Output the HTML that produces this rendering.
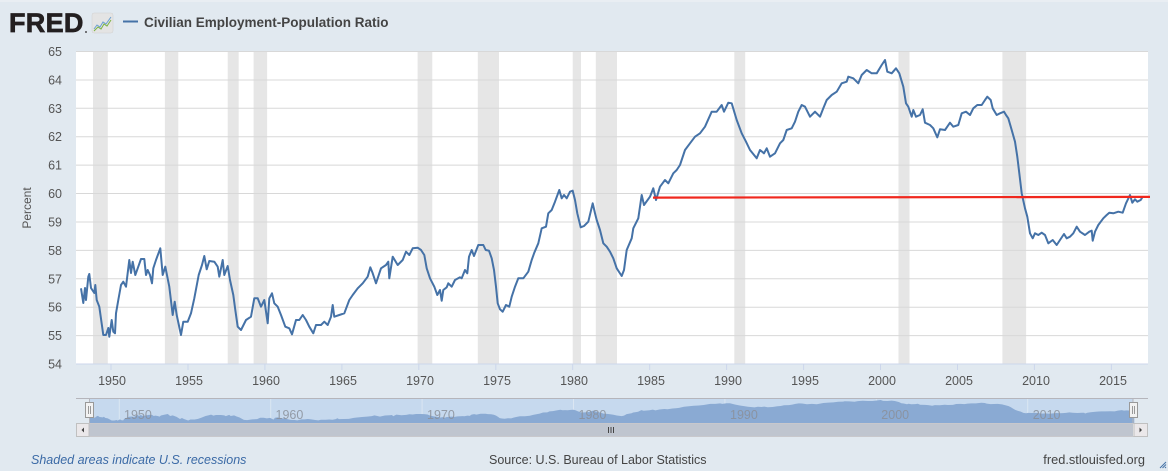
<!DOCTYPE html>
<html><head><meta charset="utf-8"><style>
html,body{margin:0;padding:0;background:#e1e9f0;}
svg{display:block;font-family:"Liberation Sans",sans-serif;}
</style></head><body>
<svg width="1168" height="471" viewBox="0 0 1168 471" xmlns="http://www.w3.org/2000/svg">
<rect x="0" y="0" width="1168" height="471" fill="#e1e9f0"/>
<rect x="0" y="0" width="1168" height="2" fill="#e9eef3"/>
<!-- header -->
<text x="9" y="32" font-size="27" font-weight="bold" fill="#231f20" stroke="#231f20" stroke-width="0.7" letter-spacing="0.3">FRED</text>
<circle cx="86" cy="32" r="0.9" fill="#231f20"/>
<rect x="92" y="13" width="21" height="20" rx="2" fill="#e4e4e4" stroke="#d0d0d0" stroke-width="0.5"/>
<polyline points="94,29 97,25 100,27 103,22 106,24 111,17" fill="none" stroke="#6a9fd0" stroke-width="1"/>
<polyline points="94,31 98,27 101,29 104,24 107,26 111,20" fill="none" stroke="#7cb342" stroke-width="1"/>
<line x1="123" y1="21.5" x2="138" y2="21.5" stroke="#4572a7" stroke-width="2"/>
<text x="144" y="27" font-size="13.5" font-weight="bold" fill="#444">Civilian Employment-Population Ratio</text>
<!-- plot bg -->
<rect x="76" y="51.5" width="1072" height="312.5" fill="#ffffff"/>
<!-- recessions -->
<g fill="#e6e6e6">
<rect x="93" y="51.5" width="14.8" height="312.5"/>
<rect x="164.9" y="51.5" width="13.4" height="312.5"/>
<rect x="227.7" y="51.5" width="11" height="312.5"/>
<rect x="253.6" y="51.5" width="13.5" height="312.5"/>
<rect x="417.6" y="51.5" width="14.7" height="312.5"/>
<rect x="477.8" y="51.5" width="21.2" height="312.5"/>
<rect x="572.7" y="51.5" width="8.3" height="312.5"/>
<rect x="595.8" y="51.5" width="21.2" height="312.5"/>
<rect x="734.3" y="51.5" width="10.9" height="312.5"/>
<rect x="898.5" y="51.5" width="11" height="312.5"/>
<rect x="1002.4" y="51.5" width="23.7" height="312.5"/>
</g>
<!-- gridlines -->
<g stroke="#d8d8d8" stroke-width="1">
<line x1="76" y1="51.5" x2="1148" y2="51.5"/>
<line x1="76" y1="80" x2="1148" y2="80"/>
<line x1="76" y1="108.3" x2="1148" y2="108.3"/>
<line x1="76" y1="136.7" x2="1148" y2="136.7"/>
<line x1="76" y1="165.1" x2="1148" y2="165.1"/>
<line x1="76" y1="193.5" x2="1148" y2="193.5"/>
<line x1="76" y1="222" x2="1148" y2="222"/>
<line x1="76" y1="250.4" x2="1148" y2="250.4"/>
<line x1="76" y1="278.8" x2="1148" y2="278.8"/>
<line x1="76" y1="307.2" x2="1148" y2="307.2"/>
<line x1="76" y1="335.6" x2="1148" y2="335.6"/>
</g>
<line x1="76" y1="364" x2="1148" y2="364" stroke="#ccd6eb" stroke-width="1"/>
<!-- x ticks -->
<g stroke="#ccd6eb" stroke-width="1">
<line x1="111" y1="364" x2="111" y2="370"/><line x1="188" y1="364" x2="188" y2="370"/>
<line x1="264.9" y1="364" x2="264.9" y2="370"/><line x1="341.9" y1="364" x2="341.9" y2="370"/>
<line x1="418.8" y1="364" x2="418.8" y2="370"/><line x1="495.8" y1="364" x2="495.8" y2="370"/>
<line x1="572.7" y1="364" x2="572.7" y2="370"/><line x1="649.7" y1="364" x2="649.7" y2="370"/>
<line x1="726.6" y1="364" x2="726.6" y2="370"/><line x1="803.6" y1="364" x2="803.6" y2="370"/>
<line x1="880.5" y1="364" x2="880.5" y2="370"/><line x1="957.5" y1="364" x2="957.5" y2="370"/>
<line x1="1034.4" y1="364" x2="1034.4" y2="370"/><line x1="1111.4" y1="364" x2="1111.4" y2="370"/>
</g>
<!-- y labels -->
<g font-size="12.5" fill="#555" text-anchor="end">
<text x="62" y="56">65</text><text x="62" y="84.5">64</text><text x="62" y="112.8">63</text>
<text x="62" y="141.2">62</text><text x="62" y="169.6">61</text><text x="62" y="198">60</text>
<text x="62" y="226.5">59</text><text x="62" y="254.9">58</text><text x="62" y="283.3">57</text>
<text x="62" y="311.7">56</text><text x="62" y="340.1">55</text><text x="62" y="368.5">54</text>
</g>
<text transform="translate(31,208) rotate(-90)" font-size="12" fill="#555" text-anchor="middle">Percent</text>
<!-- x labels -->
<g font-size="12.5" fill="#555" text-anchor="middle">
<text x="112" y="385">1950</text><text x="189" y="385">1955</text><text x="266" y="385">1960</text>
<text x="343" y="385">1965</text><text x="420" y="385">1970</text><text x="497" y="385">1975</text>
<text x="574" y="385">1980</text><text x="651" y="385">1985</text><text x="728" y="385">1990</text>
<text x="805" y="385">1995</text><text x="882" y="385">2000</text><text x="959" y="385">2005</text>
<text x="1036" y="385">2010</text><text x="1113" y="385">2015</text>
</g>
<!-- series -->
<polyline id="s" fill="none" stroke="#4572a7" stroke-width="2" stroke-linejoin="round" points="81,288.3 83.3,303 85,288 86,300 88.3,276.7 89.3,274 91,288 94.3,293 95.3,285 96.7,300 99.3,306.7 103.3,335 106,335 108.3,328 109.3,336.7 111.7,320 113.3,331.7 115,333.3 116,313.3 118.3,300 121,285 123.3,281.7 126,286.7 129.3,260 131,273 132.7,261.7 135.3,275 137.7,268.3 141,259 144.3,259 146,275 147.7,270 150,275 152,283.3 153.3,268.3 156,260 160.3,248.3 162.7,275 165.3,266.7 169.3,286.7 172.7,315 174.7,301.7 176.7,315 181,335 183.3,321.7 187.7,321.7 191,313.3 194.3,298.3 198.7,275 202,265 204.3,256 206.7,269.3 209.3,261 214.3,261.7 217.7,266.7 219.3,276.7 222.7,260 224.3,275 227.7,266 230,280 233.3,295 235.3,310 237.7,326.7 241,330 246,320 251,316.7 254.3,298.3 257.7,298.3 261,306.7 264.3,300 267.7,323.3 269.3,298.3 272,293.3 274.3,303.3 277.7,306.7 281,315 285.3,326.7 289.3,328.3 292,334.3 296,320 299.3,320 302.7,315 306,320 309.3,326.7 313.3,333.3 316,325 321,325 324.3,321.7 327.7,325 331,316.7 332.7,305 334.3,316.7 339.3,315 344.3,313.3 349.3,300 352.7,295 357.7,288.3 362.7,283.3 367.7,276.7 370.3,267.3 372.7,273.3 376,283.3 381,268.3 386,265 388.3,261.7 389.3,278.3 392.7,256.7 397.7,265 402.7,260 406,251.7 409.3,255 412.7,248.3 417.7,247.7 421,250 424.3,255 426.7,268.3 430,278.3 434.3,286.7 437.3,295 440,290 441.7,300.7 443.3,290 446.7,287.3 448.3,283.3 451.7,286.7 455,280 460,277.3 461.7,278.3 465,270 467.3,273.3 469,256.7 471.7,250 474,256 478.3,245 483.3,245 485.7,250 489,250.7 491.7,258.3 494,270 496,286.7 497.7,303.3 500,309.3 502.7,311.7 506,305 509.3,306.7 511.7,296.7 515,286.7 518.3,278.3 523.3,278.3 528.3,271.7 531.7,260 534.3,252.7 538.3,243.3 541.7,228.3 546,226.7 548.3,213.3 551.7,210 555,201.7 559.3,190 561.7,198.3 564,195 566.7,198.3 570,191.7 572.7,190.7 575,200 577.3,213.3 580.7,227.3 584,226 588.3,221.7 592.7,203.3 595,213.3 596.7,220 600,230 603.3,243.3 606.7,246.7 610,251.7 613.3,258.3 616.7,268.3 621.7,276 624,270 626.7,250 631.7,238.3 633.3,228.3 638.3,218.3 641.7,195 644,205 650,196.7 653.3,188.3 656,200 660,186.7 665,180 668.3,183.3 673.3,173.3 676.7,170 680,165 685,150 690,143.3 695,136.7 700,133.3 705,126.7 711.7,111.7 716.7,111.7 721.7,105 724,111.7 728.3,102.7 731.7,103.3 736.7,120 741.7,133.3 746,141.7 750,150 756.7,158.3 760,150 764,153.3 766.7,148.3 770,156.7 775,153.3 780,143.3 783.3,140 786.7,130 791.7,128.3 795,121.7 798.3,111.7 801.7,105 805,106.7 810,116.7 815,111.7 820,116.7 823.3,108.3 826.7,100 831.7,95 836.7,91.7 841.7,83.3 846.7,81.7 848.3,76.7 853.3,78.3 858.3,83.3 861.7,75 866.7,70 871.7,73.3 876.7,73.3 881.7,65 885,60 887.3,71.7 891.7,73.3 896,68.3 899.3,73.3 903.3,86.7 906,103.3 908.3,106.7 911.7,116.7 913.3,110 916,116.7 920,115 922.7,109.3 925,122.7 930,125 933.3,128.3 937.3,137.3 940,129.3 945,130 950,122.7 953.3,126.7 958.3,125 961.7,113.3 966,111.7 970,115 973.3,108.3 977.3,105 981.7,105 985,100 987.3,96.7 990.7,100 992.7,108.3 996.7,115 1000,113.3 1004,111.7 1006,115 1008.3,118.3 1011.7,130 1015,141.7 1017.3,156.7 1019.3,173.3 1021.7,193.3 1025,208.3 1027.3,216.7 1030,233.3 1032.7,238.3 1035,233.3 1038.3,235 1041.7,232.7 1045,235 1048.3,243.3 1052.7,240 1056.7,245 1060,240 1064,234 1066.7,238.3 1070,236.7 1073.3,233.3 1076.7,226.7 1080,231.7 1085,235 1089.3,231.7 1091.7,230.7 1092.7,240.7 1095,231.7 1098.3,225 1103.3,218.3 1106.7,215 1109.3,212.7 1113.3,213.3 1118.3,211.7 1122.7,212.7 1126,203.3 1130,195 1132.3,202.7 1135,199.3 1137.3,201.7 1140.7,200 1142.7,196.7"/>
<!-- red line -->
<line x1="653" y1="197.6" x2="1150" y2="196.9" stroke="#f0281e" stroke-width="2.2"/>
<!-- navigator -->
<rect x="89" y="399" width="1044" height="24" fill="#c6d9ee"/>
<g stroke="#dbe6f2" stroke-width="1">
<line x1="119.3" y1="399" x2="119.3" y2="423"/><line x1="270.7" y1="399" x2="270.7" y2="423"/>
<line x1="422.1" y1="399" x2="422.1" y2="423"/><line x1="573.5" y1="399" x2="573.5" y2="423"/>
<line x1="724.9" y1="399" x2="724.9" y2="423"/><line x1="876.3" y1="399" x2="876.3" y2="423"/>
<line x1="1027.7" y1="399" x2="1027.7" y2="423"/>
</g>
<g transform="matrix(0.9838 0 0 0.07427 10.08 395.58)">
<polygon fill="#8aaad3" stroke="none" points="81,369.2 81,288.3 83.3,303 85,288 86,300 88.3,276.7 89.3,274 91,288 94.3,293 95.3,285 96.7,300 99.3,306.7 103.3,335 106,335 108.3,328 109.3,336.7 111.7,320 113.3,331.7 115,333.3 116,313.3 118.3,300 121,285 123.3,281.7 126,286.7 129.3,260 131,273 132.7,261.7 135.3,275 137.7,268.3 141,259 144.3,259 146,275 147.7,270 150,275 152,283.3 153.3,268.3 156,260 160.3,248.3 162.7,275 165.3,266.7 169.3,286.7 172.7,315 174.7,301.7 176.7,315 181,335 183.3,321.7 187.7,321.7 191,313.3 194.3,298.3 198.7,275 202,265 204.3,256 206.7,269.3 209.3,261 214.3,261.7 217.7,266.7 219.3,276.7 222.7,260 224.3,275 227.7,266 230,280 233.3,295 235.3,310 237.7,326.7 241,330 246,320 251,316.7 254.3,298.3 257.7,298.3 261,306.7 264.3,300 267.7,323.3 269.3,298.3 272,293.3 274.3,303.3 277.7,306.7 281,315 285.3,326.7 289.3,328.3 292,334.3 296,320 299.3,320 302.7,315 306,320 309.3,326.7 313.3,333.3 316,325 321,325 324.3,321.7 327.7,325 331,316.7 332.7,305 334.3,316.7 339.3,315 344.3,313.3 349.3,300 352.7,295 357.7,288.3 362.7,283.3 367.7,276.7 370.3,267.3 372.7,273.3 376,283.3 381,268.3 386,265 388.3,261.7 389.3,278.3 392.7,256.7 397.7,265 402.7,260 406,251.7 409.3,255 412.7,248.3 417.7,247.7 421,250 424.3,255 426.7,268.3 430,278.3 434.3,286.7 437.3,295 440,290 441.7,300.7 443.3,290 446.7,287.3 448.3,283.3 451.7,286.7 455,280 460,277.3 461.7,278.3 465,270 467.3,273.3 469,256.7 471.7,250 474,256 478.3,245 483.3,245 485.7,250 489,250.7 491.7,258.3 494,270 496,286.7 497.7,303.3 500,309.3 502.7,311.7 506,305 509.3,306.7 511.7,296.7 515,286.7 518.3,278.3 523.3,278.3 528.3,271.7 531.7,260 534.3,252.7 538.3,243.3 541.7,228.3 546,226.7 548.3,213.3 551.7,210 555,201.7 559.3,190 561.7,198.3 564,195 566.7,198.3 570,191.7 572.7,190.7 575,200 577.3,213.3 580.7,227.3 584,226 588.3,221.7 592.7,203.3 595,213.3 596.7,220 600,230 603.3,243.3 606.7,246.7 610,251.7 613.3,258.3 616.7,268.3 621.7,276 624,270 626.7,250 631.7,238.3 633.3,228.3 638.3,218.3 641.7,195 644,205 650,196.7 653.3,188.3 656,200 660,186.7 665,180 668.3,183.3 673.3,173.3 676.7,170 680,165 685,150 690,143.3 695,136.7 700,133.3 705,126.7 711.7,111.7 716.7,111.7 721.7,105 724,111.7 728.3,102.7 731.7,103.3 736.7,120 741.7,133.3 746,141.7 750,150 756.7,158.3 760,150 764,153.3 766.7,148.3 770,156.7 775,153.3 780,143.3 783.3,140 786.7,130 791.7,128.3 795,121.7 798.3,111.7 801.7,105 805,106.7 810,116.7 815,111.7 820,116.7 823.3,108.3 826.7,100 831.7,95 836.7,91.7 841.7,83.3 846.7,81.7 848.3,76.7 853.3,78.3 858.3,83.3 861.7,75 866.7,70 871.7,73.3 876.7,73.3 881.7,65 885,60 887.3,71.7 891.7,73.3 896,68.3 899.3,73.3 903.3,86.7 906,103.3 908.3,106.7 911.7,116.7 913.3,110 916,116.7 920,115 922.7,109.3 925,122.7 930,125 933.3,128.3 937.3,137.3 940,129.3 945,130 950,122.7 953.3,126.7 958.3,125 961.7,113.3 966,111.7 970,115 973.3,108.3 977.3,105 981.7,105 985,100 987.3,96.7 990.7,100 992.7,108.3 996.7,115 1000,113.3 1004,111.7 1006,115 1008.3,118.3 1011.7,130 1015,141.7 1017.3,156.7 1019.3,173.3 1021.7,193.3 1025,208.3 1027.3,216.7 1030,233.3 1032.7,238.3 1035,233.3 1038.3,235 1041.7,232.7 1045,235 1048.3,243.3 1052.7,240 1056.7,245 1060,240 1064,234 1066.7,238.3 1070,236.7 1073.3,233.3 1076.7,226.7 1080,231.7 1085,235 1089.3,231.7 1091.7,230.7 1092.7,240.7 1095,231.7 1098.3,225 1103.3,218.3 1106.7,215 1109.3,212.7 1113.3,213.3 1118.3,211.7 1122.7,212.7 1126,203.3 1130,195 1132.3,202.7 1135,199.3 1137.3,201.7 1140.7,200 1142.7,196.7 1142.7,369.2"/>
</g>
<g font-size="12.5" fill="#8a8f99" fill-opacity="0.85">
<text x="124" y="419">1950</text><text x="275.5" y="419">1960</text><text x="427" y="419">1970</text>
<text x="578.5" y="419">1980</text><text x="730" y="419">1990</text><text x="881.3" y="419">2000</text>
<text x="1032.7" y="419">2010</text>
</g>
<line x1="76" y1="398.5" x2="1148" y2="398.5" stroke="#b5b5bb" stroke-width="1"/>
<line x1="89.5" y1="399" x2="89.5" y2="423" stroke="#b5b5bb" stroke-width="1"/>
<line x1="1133" y1="399" x2="1133" y2="423" stroke="#b5b5bb" stroke-width="1"/>
<!-- handles -->
<rect x="85.5" y="402.5" width="8" height="15" fill="#f2f2f2" stroke="#999" stroke-width="1"/>
<line x1="88.5" y1="406" x2="88.5" y2="414" stroke="#999" stroke-width="1"/>
<line x1="90.5" y1="406" x2="90.5" y2="414" stroke="#999" stroke-width="1"/>
<rect x="1129.5" y="402.5" width="8" height="15" fill="#f2f2f2" stroke="#999" stroke-width="1"/>
<line x1="1132.5" y1="406" x2="1132.5" y2="414" stroke="#999" stroke-width="1"/>
<line x1="1134.5" y1="406" x2="1134.5" y2="414" stroke="#999" stroke-width="1"/>
<!-- scrollbar -->
<rect x="76" y="423" width="1072" height="14" fill="#f2f2f2"/>
<rect x="89" y="423" width="1044" height="14" fill="#bfc5cf"/>
<rect x="76.5" y="423.5" width="1071" height="13" fill="none" stroke="#c8c8cc" stroke-width="1"/>
<rect x="76.5" y="423.5" width="12.5" height="13" fill="#ebe8ea" stroke="#c0c0c0" stroke-width="1"/>
<rect x="1134" y="423.5" width="13.5" height="13" fill="#ebe8ea" stroke="#c0c0c0" stroke-width="1"/>
<polygon points="84,427.5 84,432.5 81.5,430" fill="#444"/>
<polygon points="1139.5,427.5 1139.5,432.5 1142,430" fill="#444"/>
<g stroke="#444" stroke-width="1">
<line x1="608.5" y1="427" x2="608.5" y2="433"/><line x1="611" y1="427" x2="611" y2="433"/><line x1="613.5" y1="427" x2="613.5" y2="433"/>
</g>
<!-- footer -->
<text x="31" y="464" font-size="12.5" font-style="italic" fill="#3b6aa6">Shaded areas indicate U.S. recessions</text>
<text x="489" y="464" font-size="12.5" fill="#444">Source: U.S. Bureau of Labor Statistics</text>
<text x="1145" y="464" font-size="12.8" fill="#444" text-anchor="end">fred.stlouisfed.org</text>
<g stroke="#4572a7" stroke-width="1">
<line x1="1160" y1="468" x2="1166" y2="462"/><line x1="1162.5" y1="468" x2="1166" y2="464.5"/><line x1="1165" y1="468" x2="1166" y2="467"/>
</g>
</svg>
</body></html>
